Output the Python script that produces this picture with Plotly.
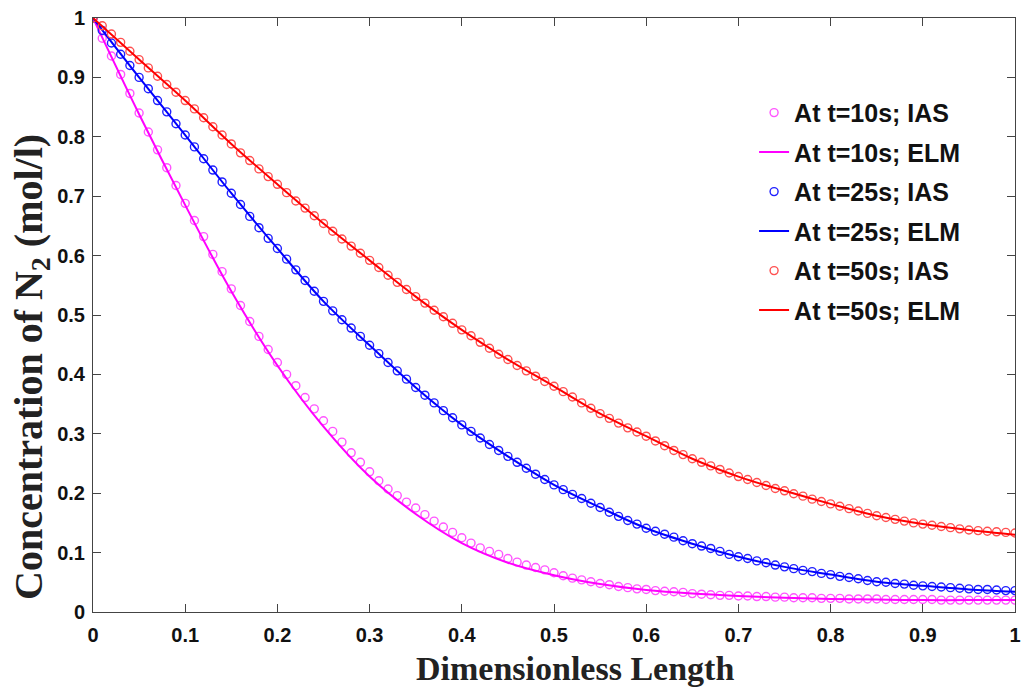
import plotly.graph_objects as go

# x positions of IAS samples (0 .. 1 step 0.01) and ELM samples (0 .. 1 step 0.05)
x_ias = [round(i * 0.01, 2) for i in range(101)]
x_elm = [round(i * 0.05, 2) for i in range(21)]

ias_t10 = [1.000, 0.966, 0.936, 0.905, 0.873, 0.840, 0.808, 0.778, 0.748, 0.718,
           0.688, 0.659, 0.632, 0.602, 0.573, 0.544, 0.516, 0.489, 0.464, 0.442,
           0.420, 0.400, 0.381, 0.361, 0.342, 0.322, 0.304, 0.286, 0.268, 0.252,
           0.236, 0.221, 0.207, 0.196, 0.185, 0.175, 0.164, 0.153, 0.143, 0.134,
           0.125, 0.116, 0.108, 0.102, 0.097, 0.090, 0.084, 0.079, 0.075, 0.071,
           0.066, 0.061, 0.057, 0.054, 0.051, 0.048, 0.046, 0.043, 0.041, 0.039,
           0.038, 0.036, 0.035, 0.034, 0.033, 0.031, 0.030, 0.029, 0.028, 0.028,
           0.027, 0.027, 0.026, 0.026, 0.025, 0.025, 0.024, 0.024, 0.024, 0.023,
           0.023, 0.023, 0.022, 0.022, 0.022, 0.022, 0.021, 0.021, 0.021, 0.021,
           0.021, 0.021, 0.020, 0.020, 0.020, 0.020, 0.020, 0.020, 0.020, 0.020,
           0.020]
elm_t10 = [1.000, 0.838, 0.685, 0.540, 0.415, 0.312, 0.228, 0.165, 0.116, 0.083,
           0.062, 0.047, 0.037, 0.031, 0.027, 0.024, 0.022, 0.021, 0.020, 0.020,
           0.020]

ias_t25 = [1.000, 0.979, 0.958, 0.939, 0.920, 0.900, 0.881, 0.861, 0.842, 0.822,
           0.803, 0.783, 0.763, 0.744, 0.724, 0.705, 0.686, 0.666, 0.647, 0.629,
           0.612, 0.594, 0.576, 0.558, 0.540, 0.523, 0.507, 0.492, 0.478, 0.464,
           0.449, 0.435, 0.420, 0.406, 0.392, 0.378, 0.365, 0.352, 0.339, 0.327,
           0.315, 0.304, 0.293, 0.282, 0.272, 0.262, 0.252, 0.242, 0.232, 0.223,
           0.214, 0.206, 0.198, 0.191, 0.183, 0.176, 0.168, 0.161, 0.154, 0.148,
           0.141, 0.136, 0.131, 0.126, 0.120, 0.115, 0.111, 0.107, 0.102, 0.097,
           0.093, 0.090, 0.086, 0.083, 0.079, 0.076, 0.073, 0.070, 0.068, 0.065,
           0.063, 0.060, 0.058, 0.056, 0.053, 0.051, 0.050, 0.048, 0.047, 0.045,
           0.044, 0.043, 0.042, 0.041, 0.040, 0.039, 0.038, 0.038, 0.037, 0.036,
           0.036]
elm_t25 = [1.000, 0.900, 0.803, 0.705, 0.612, 0.523, 0.449, 0.378, 0.315, 0.262,
           0.214, 0.176, 0.141, 0.115, 0.093, 0.076, 0.063, 0.051, 0.044, 0.038,
           0.034]

ias_t50 = [1.000, 0.987, 0.973, 0.959, 0.944, 0.930, 0.916, 0.902, 0.888, 0.875,
           0.861, 0.847, 0.832, 0.817, 0.803, 0.788, 0.773, 0.760, 0.746, 0.733,
           0.720, 0.706, 0.692, 0.680, 0.667, 0.654, 0.641, 0.628, 0.616, 0.604,
           0.592, 0.580, 0.567, 0.555, 0.543, 0.531, 0.520, 0.508, 0.497, 0.486,
           0.475, 0.465, 0.454, 0.444, 0.434, 0.425, 0.415, 0.406, 0.397, 0.388,
           0.380, 0.371, 0.362, 0.352, 0.343, 0.334, 0.326, 0.318, 0.310, 0.303,
           0.296, 0.288, 0.280, 0.272, 0.265, 0.258, 0.252, 0.246, 0.240, 0.234,
           0.228, 0.223, 0.218, 0.213, 0.208, 0.204, 0.199, 0.195, 0.190, 0.186,
           0.182, 0.178, 0.174, 0.170, 0.166, 0.162, 0.159, 0.156, 0.153, 0.150,
           0.148, 0.146, 0.144, 0.142, 0.140, 0.138, 0.137, 0.136, 0.135, 0.134,
           0.133]
elm_t50 = [1.000, 0.930, 0.861, 0.788, 0.720, 0.654, 0.592, 0.531, 0.475, 0.425,
           0.380, 0.334, 0.296, 0.258, 0.228, 0.204, 0.182, 0.162, 0.148, 0.138,
           0.130]

tick_vals = [round(i * 0.1, 1) for i in range(11)]
tick_text = ["0", "0.1", "0.2", "0.3", "0.4", "0.5", "0.6", "0.7", "0.8", "0.9", "1"]

series = [
    ("At t=10s", ias_t10, elm_t10, "#FF00FF", "#FF55FF"),
    ("At t=25s", ias_t25, elm_t25, "#0000FF", "#2020FF"),
    ("At t=50s", ias_t50, elm_t50, "#FF0000", "#FF5050"),
]

fig = go.Figure()
for i, (name, ias, elm, col, mcol) in enumerate(series):
    fig.add_trace(go.Scatter(
        x=x_ias, y=ias, mode="markers", name=f"<b>{name}; IAS</b>",
        legendgroup=f"g{2*i}",
        marker=dict(symbol="circle-open", size=8, color=mcol, line=dict(width=1.4, color=mcol)),
    ))
    fig.add_trace(go.Scatter(
        x=x_elm, y=elm, mode="lines", name=f"<b>{name}; ELM</b>",
        legendgroup=f"g{2*i+1}",
        line=dict(color=col, width=2, shape="spline", smoothing=1.0),
    ))

tick_font = dict(family="Liberation Sans, Arial, sans-serif", size=20, color="#111111")

axis_common = dict(
    range=[0, 1], tickvals=tick_vals, ticktext=[f"<b>{t}</b>" for t in tick_text],
    ticks="inside", ticklen=8, tickwidth=1, tickcolor="#444444",
    showline=True, linecolor="#444444", linewidth=1, mirror="ticks",
    showgrid=False, zeroline=False, tickfont=tick_font, automargin=False,
)

fig.update_layout(
    width=1021, height=690,
    margin=dict(l=93, r=6, t=18, b=78, autoexpand=False),
    paper_bgcolor="white", plot_bgcolor="white",
    showlegend=True,
    legend=dict(
        x=0.717, y=0.879, xanchor="left", yanchor="top",
        bgcolor="rgba(0,0,0,0)", borderwidth=0,
        font=dict(family="Liberation Sans, Arial, sans-serif", size=25, color="#111111"),
        tracegroupgap=4, traceorder="grouped",
    ),
    xaxis=dict(**axis_common, ticklabelstandoff=5),
    yaxis=dict(**axis_common, ticklabelstandoff=3),
)

fig.add_annotation(
    text="<b>Dimensionless Length</b>", xref="paper", yref="paper",
    x=(575 - 93) / 922, y=(612 - 668) / 594, xanchor="center", yanchor="middle",
    showarrow=False,
    font=dict(family="Liberation Serif, Times New Roman, serif", size=34, color="#222222"),
)
fig.add_annotation(
    text="<b>Concentration of N<sub>2</sub> (mol/l)</b>", xref="paper", yref="paper",
    x=(31 - 93) / 922, y=(612 - 367) / 594, xanchor="center", yanchor="middle",
    textangle=-90, showarrow=False,
    font=dict(family="Liberation Serif, Times New Roman, serif", size=40, color="#222222"),
)

fig.write_html(
    "out.html",
    config={"displayModeBar": False},
    post_script="document.body.style.margin='0';document.body.style.overflow='hidden';",
)
